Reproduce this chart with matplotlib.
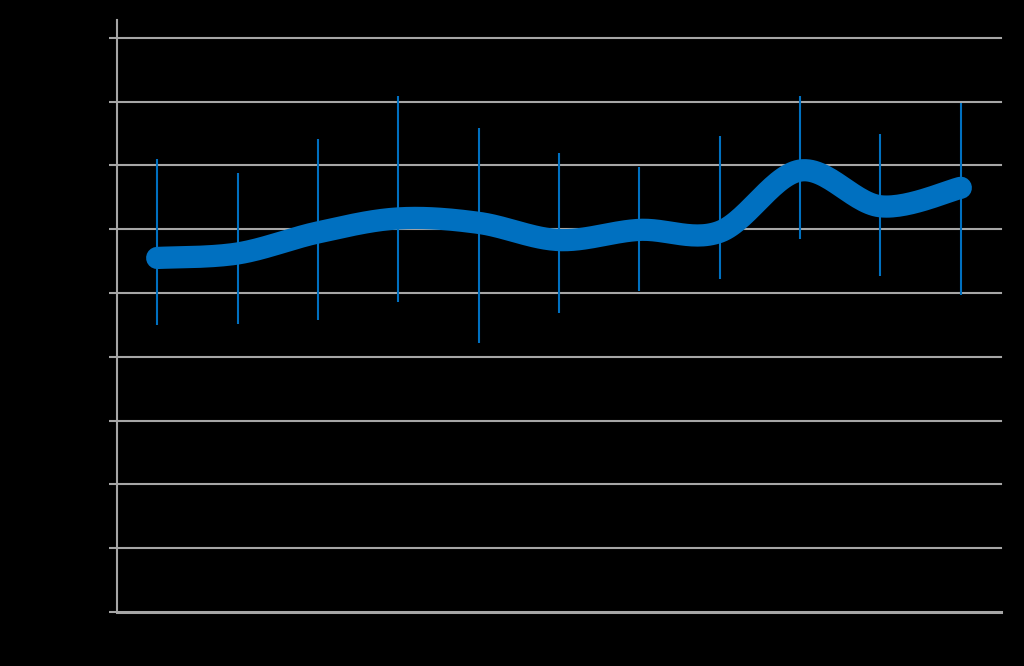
import numpy as np
import matplotlib
matplotlib.use("Agg")
import matplotlib.pyplot as plt

# values
categories = ["1", "2", "3", "4", "5", "6", "7", "8", "9", "10", "11"]
means = [5.55, 5.62, 5.95, 6.17, 6.10, 5.83, 5.99, 5.96, 6.92, 6.36, 6.65]
upper = [7.10, 6.88, 7.42, 8.09, 7.59, 7.19, 6.97, 7.46, 8.09, 7.49, 7.98]
lower = [4.50, 4.51, 4.57, 4.86, 4.22, 4.69, 5.03, 5.22, 5.85, 5.27, 4.97]
yticks = list(range(0, 10))

blue = "#0070C0"
grid = "#A6A6A6"

def smooth(x, y, n=30):
    # Catmull-Rom style curve, like a spreadsheet "smoothed line"
    x = np.asarray(x, float)
    y = np.asarray(y, float)
    px = np.concatenate([[x[0]], x, [x[-1]]])
    py = np.concatenate([[y[0]], y, [y[-1]]])
    xs, ys = [], []
    t = np.linspace(0, 1, n)
    for i in range(1, len(px) - 2):
        p0, p1, p2, p3 = py[i - 1], py[i], py[i + 1], py[i + 2]
        q0, q1, q2, q3 = px[i - 1], px[i], px[i + 1], px[i + 2]
        c1y = p1 + (p2 - p0) / 6
        c2y = p2 - (p3 - p1) / 6
        c1x = q1 + (q2 - q0) / 6
        c2x = q2 - (q3 - q1) / 6
        bx = (1 - t) ** 3 * q1 + 3 * (1 - t) ** 2 * t * c1x + 3 * (1 - t) * t ** 2 * c2x + t ** 3 * q2
        by = (1 - t) ** 3 * p1 + 3 * (1 - t) ** 2 * t * c1y + 3 * (1 - t) * t ** 2 * c2y + t ** 3 * p2
        xs.extend(bx)
        ys.extend(by)
    return np.array(xs), np.array(ys)

x = np.arange(len(categories))

fig = plt.figure(figsize=(10.24, 6.66), dpi=100, facecolor="black")
ax = fig.add_axes([117 / 1024, 54 / 666, 884 / 1024, 592 / 666])
ax.set_facecolor("black")

for yv in yticks:
    ax.axhline(yv, color=grid, lw=1.5 if yv else 2.2, zorder=1, clip_on=False)

ax.vlines(x, lower, upper, color=blue, lw=1.5, zorder=2)

sx, sy = smooth(x, means)
ax.plot(sx, sy, color=blue, lw=16, solid_capstyle="round", zorder=3)

ax.set_xlim(-0.5, len(categories) - 0.5)
ax.set_ylim(0, 9.28)
ax.set_yticks(yticks)
ax.set_yticklabels([str(v) for v in yticks], color="black")
ax.set_xticks(x)
ax.set_xticklabels(categories, color="black")
ax.tick_params(axis="y", color=grid, length=5.5, width=1.5)
ax.tick_params(axis="x", length=0)

for s in ["top", "right", "bottom"]:
    ax.spines[s].set_visible(False)
ax.spines["left"].set_color(grid)
ax.spines["left"].set_linewidth(1.5)

fig.savefig("out.png", dpi=100, facecolor="black")
